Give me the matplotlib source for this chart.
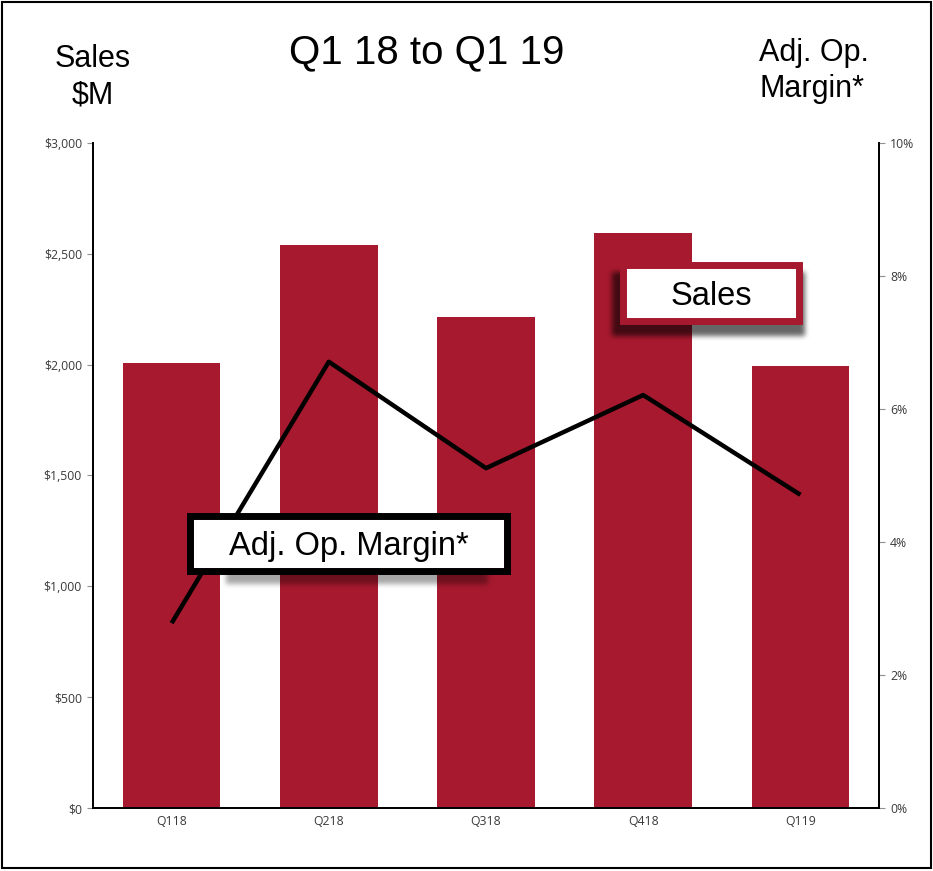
"""
Sales bars with adjusted operating margin line, Q1 18 to Q1 19.
"""

import numpy as np
import matplotlib
matplotlib.use('Agg')
import matplotlib.pyplot as plt
from matplotlib.patches import Rectangle
from matplotlib.ticker import FuncFormatter

quarters = ['Q118', 'Q218', 'Q318', 'Q418', 'Q119']
sales = [2007, 2540, 2215, 2594, 1994]
margin = [2.78, 6.71, 5.11, 6.21, 4.71]

sales_ticks = [0, 500, 1000, 1500, 2000, 2500, 3000]
margin_ticks = [0, 2, 4, 6, 8, 10]

BAR_RED = '#A6192E'
TICK_GRAY = '#3a3a3a'
W, H = 933, 871


def px_box(x0, y0, x1, y1):
    """pixel box (top-left origin) -> figure fraction (x, y, w, h)"""
    return x0 / W, 1 - y1 / H, (x1 - x0) / W, (y1 - y0) / H


def blurred_shadow(fig, x0, y0, x1, y1, blur, alpha, zorder):
    """soft black shadow as a figimage, box given in pixels (top-left origin)"""
    pad = 3 * blur
    w, h = x1 - x0 + 2 * pad, y1 - y0 + 2 * pad
    mask = np.zeros((h, w))
    mask[pad:h - pad, pad:w - pad] = 1.0
    k = np.ones(blur) / blur
    for _ in range(3):
        mask = np.apply_along_axis(lambda r: np.convolve(r, k, mode='same'), 1, mask)
        mask = np.apply_along_axis(lambda c: np.convolve(c, k, mode='same'), 0, mask)
    rgba = np.zeros((h, w, 4))
    rgba[..., 3] = mask * alpha
    fig.figimage(rgba, xo=x0 - pad, yo=H - (y1 + pad), origin='upper', zorder=zorder)


def add_label_box(fig, text, x0, y0, x1, y1, edge, lw):
    bx, by, bw, bh = px_box(x0, y0, x1, y1)
    fig.add_artist(Rectangle((bx, by), bw, bh, transform=fig.transFigure,
                             facecolor='white', edgecolor=edge, linewidth=lw,
                             zorder=21))
    fig.text(bx + bw / 2, by + bh / 2 - 3 / H, text, ha='center', va='center',
             fontsize=23.5, family='Liberation Sans', color='black', zorder=22)


fig = plt.figure(figsize=(W / 100, H / 100), dpi=100)
ax = fig.add_axes([93 / W, 1 - 808 / H, (879 - 93) / W, (808 - 143) / H])
ax2 = ax.twinx()

x = range(len(quarters))
ax.bar(x, sales, width=0.62, color=BAR_RED, zorder=2)
ax2.plot(x, margin, color='black', linewidth=3.2, solid_capstyle='butt', zorder=3)

ax.set_xlim(-0.5, len(quarters) - 0.5)
ax.set_ylim(0, 3000)
ax2.set_ylim(0, 10)
ax.set_yticks(sales_ticks)
ax2.set_yticks(margin_ticks)
ax.yaxis.set_major_formatter(FuncFormatter(lambda v, p: '${:,.0f}'.format(v)))
ax2.yaxis.set_major_formatter(FuncFormatter(lambda v, p: '{:.0f}%'.format(v)))
ax.set_xticks(list(x))
ax.set_xticklabels(quarters)

for a in (ax, ax2):
    a.tick_params(axis='y', length=4, width=0.8, color='#909090',
                  labelsize=8.8, labelcolor=TICK_GRAY, pad=4)
    a.spines['top'].set_visible(False)
    for s in ('left', 'right', 'bottom'):
        a.spines[s].set_linewidth(1.3)
        a.spines[s].set_color('black')
    for lbl in a.get_yticklabels():
        lbl.set_family('Open Sans')
ax.tick_params(axis='x', length=0, labelsize=8.8, labelcolor=TICK_GRAY, pad=5)
for lbl in ax.get_xticklabels():
    lbl.set_family('Open Sans')
ax.set_zorder(1)
ax2.set_zorder(2)
ax2.patch.set_visible(False)

# headings
head = dict(family='Liberation Sans', color='black', va='center')
fig.text(427 / W, 1 - 52 / H, 'Q1 18 to Q1 19', fontsize=29, ha='center', **head)
fig.text(93 / W, 1 - 77 / H, 'Sales\n$M', fontsize=22, linespacing=1.3,
         ha='center', multialignment='center', **head)
fig.text(759 / W, 1 - 71 / H, 'Adj. Op.\nMargin*', fontsize=22, linespacing=1.27,
         ha='left', multialignment='left', **head)

# label boxes with their drop shadows
blurred_shadow(fig, 612, 272, 805, 336, blur=5, alpha=0.6, zorder=20)
blurred_shadow(fig, 226, 556, 488, 584, blur=5, alpha=0.35, zorder=20)
add_label_box(fig, 'Sales', 623, 265, 799, 321, BAR_RED, 5)
add_label_box(fig, 'Adj. Op. Margin*', 190, 516, 507, 571, 'black', 5)

# outer frame
fig.add_artist(Rectangle((0.002, 0.003), 0.996, 0.995, transform=fig.transFigure,
                         facecolor='none', edgecolor='black', linewidth=1.5,
                         zorder=30))

fig.savefig('out.png', dpi=100)
